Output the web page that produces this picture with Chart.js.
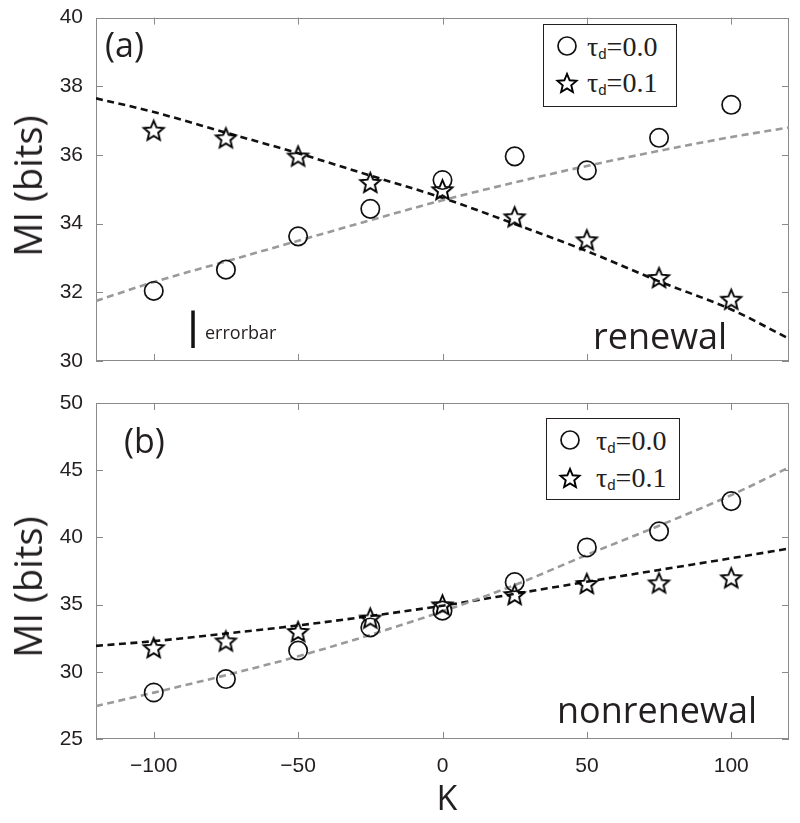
<!DOCTYPE html>
<html>
<head>
<meta charset="utf-8">
<script src="https://cdn.jsdelivr.net/npm/chart.js@4.4.1/dist/chart.umd.min.js"></script>
<style>
  html, body { margin: 0; padding: 0; background: #fff; }
  body { position: relative; width: 800px; height: 823px; overflow: hidden; font-family: 'Open Sans', sans-serif; color: #231f20; }
  #w1 { position: absolute; left: 0; top: 0; width: 800px; height: 380px; }
  #w2 { position: absolute; left: 0; top: 380px; width: 800px; height: 443px; }
  .t { position: absolute; white-space: nowrap; line-height: 1; }
  .c { transform: translate(-50%, -50%); }
  .ylab { transform: translate(-50%, -50%) rotate(-90deg); font-size: 38px; }
  .panel { font-size: 34px; transform: translateY(-50%); }
  .big { font-size: 36px; transform: translateY(-50%); }
  .legend { position: absolute; border: 1px solid #231f20; background: #fff; box-sizing: border-box; }
  .lt { position: absolute; white-space: nowrap; line-height: 1; font-family: 'Liberation Serif', 'Times New Roman', serif; font-size: 28px; transform: translateY(-50%); }
  .lt sub { font-family: 'Liberation Sans', Arial, sans-serif; font-size: 15px; vertical-align: -3px; line-height: 0; }
  .mk { position: absolute; transform: translate(-50%, -50%); }
</style>
</head>
<body>
<div id="w1"><canvas id="c1" width="800" height="380"></canvas></div>
<div id="w2"><canvas id="c2" width="800" height="443"></canvas></div>

<div class="t ylab" style="left:27px;top:186px;">MI (bits)</div>
<div class="t ylab" style="left:27px;top:587px;">MI (bits)</div>
<div class="t c" style="left:447px;top:797px;font-size:34px;">K</div>

<div class="t panel" style="left:105px;top:44px;">(a)</div>
<div class="t panel" style="left:124px;top:440px;">(b)</div>
<div class="t big" style="left:593px;top:336px;">renewal</div>
<div class="t big" style="left:557px;top:710px;">nonrenewal</div>
<div class="t" style="left:205px;top:323px;font-size:18px;">errorbar</div>

<div class="legend" style="left:543px;top:24px;width:134px;height:83px;"></div>
<canvas class="mk" id="lc1" width="26" height="26" style="left:567px;top:46px;"></canvas>
<canvas class="mk" id="ls1" width="28" height="28" style="left:567px;top:83px;"></canvas>
<div class="lt" style="left:587px;top:47px;">&tau;<sub>d</sub>=0.0</div>
<div class="lt" style="left:587px;top:83px;">&tau;<sub>d</sub>=0.1</div>

<div class="legend" style="left:546px;top:418px;width:134px;height:82px;"></div>
<canvas class="mk" id="lc2" width="26" height="26" style="left:570px;top:440px;"></canvas>
<canvas class="mk" id="ls2" width="28" height="28" style="left:570px;top:478px;"></canvas>
<div class="lt" style="left:596px;top:441px;">&tau;<sub>d</sub>=0.0</div>
<div class="lt" style="left:596px;top:478px;">&tau;<sub>d</sub>=0.1</div>

<script>
// ---------------- data ----------------
const K = [-100, -75, -50, -25, 0, 25, 50, 75, 100];

// (a) renewal
const renewalTau00 = [32.04, 32.66, 33.63, 34.43, 35.27, 35.96, 35.55, 36.50, 37.46];
const renewalTau01 = [36.72, 36.50, 35.97, 35.20, 34.99, 34.20, 33.53, 32.43, 31.80];

// (b) nonrenewal
const nonrenewalTau00 = [28.46, 29.46, 31.58, 33.30, 34.55, 36.67, 39.25, 40.45, 42.70];
const nonrenewalTau01 = [31.80, 32.30, 33.00, 34.00, 34.98, 35.75, 36.57, 36.62, 37.00];

// fitted dashed curves, sampled at these K values
const fitK = [-120, -100, -75, -50, -25, 0, 25, 50, 75, 100, 120];
const renewalFit00 = [31.75, 32.30, 32.90, 33.50, 34.10, 34.68, 35.20, 35.68, 36.12, 36.52, 36.80];
const renewalFit01 = [37.65, 37.25, 36.65, 36.05, 35.40, 34.75, 33.99, 33.20, 32.32, 31.50, 30.65];
const nonrenewalFit00 = [27.45, 28.45, 29.75, 31.15, 32.75, 34.50, 36.45, 38.70, 40.87, 43.15, 45.20];
const nonrenewalFit01 = [31.93, 32.28, 32.85, 33.45, 34.15, 34.92, 35.80, 36.70, 37.58, 38.45, 39.17];

// error bar shown in panel (a)
const errorbarK = [-86.4, -86.4];
const errorbarMI = [30.38, 31.47];

// axes
const kRange = [-120, 120];
const kTicks = [-100, -50, 0, 50, 100];
const miRangeA = [30, 40];
const miTicksA = [30, 32, 34, 36, 38, 40];
const miRangeB = [25, 50];
const miTicksB = [25, 30, 35, 40, 45, 50];

// ---------------- helpers ----------------
const INK = '#111111';
function pts(xs, ys) { return xs.map((x, i) => ({ x: x, y: ys[i] })); }

function drawStar(g, cx, cy, R) {
  g.beginPath();
  for (let i = 0; i < 10; i++) {
    const r = (i % 2) ? R * 0.45 : R;
    const a = -Math.PI / 2 + i * Math.PI / 5;
    g.lineTo(cx + r * Math.cos(a), cy + r * Math.sin(a));
  }
  g.closePath();
  g.lineWidth = 1.9;
  g.lineJoin = 'miter';
  g.strokeStyle = '#000';
  g.stroke();
}
function makeStar(R) {
  const s = Math.ceil(R * 2 + 6);
  const c = document.createElement('canvas');
  c.width = c.height = s;
  drawStar(c.getContext('2d'), s / 2, s / 2 + R * 0.095, R);
  return c;
}
const starImg = makeStar(10.5);

// legend markers
['lc1', 'lc2'].forEach(id => {
  const g = document.getElementById(id).getContext('2d');
  g.beginPath(); g.arc(13, 13, 9, 0, Math.PI * 2); g.lineWidth = 1.7; g.strokeStyle = INK; g.stroke();
});
['ls1', 'ls2'].forEach(id => {
  const g = document.getElementById(id).getContext('2d');
  drawStar(g, 14, 14 + 10 * 0.095, 10);
});

const framePlugin = {
  id: 'frame',
  beforeDatasetsDraw(chart) {
    const { ctx, chartArea: a } = chart;
    const xs = chart.scales.x, ys = chart.scales.y;
    const L = 7;
    ctx.save();
    ctx.strokeStyle = '#8a8a8a';
    ctx.lineWidth = 1;
    ctx.strokeRect(Math.round(a.left) + 0.5, Math.round(a.top) + 0.5,
                   Math.round(a.right - a.left) - 1, Math.round(a.bottom - a.top) - 1);
    ctx.beginPath();
    xs.ticks.forEach(t => {
      const px = Math.round(xs.getPixelForValue(t.value)) + 0.5;
      ctx.moveTo(px, a.bottom); ctx.lineTo(px, a.bottom - L);
      ctx.moveTo(px, a.top); ctx.lineTo(px, a.top + L);
    });
    ys.ticks.forEach(t => {
      const py = Math.round(ys.getPixelForValue(t.value)) + 0.5;
      ctx.moveTo(a.left, py); ctx.lineTo(a.left + L, py);
      ctx.moveTo(a.right, py); ctx.lineTo(a.right - L, py);
    });
    ctx.stroke();
    ctx.restore();
  }
};

function fitSet(ys, color) {
  return {
    type: 'line', data: pts(fitK, ys), showLine: true, borderColor: color, borderWidth: 2.6,
    borderDash: [7, 4.5], pointRadius: 0, tension: 0.4, cubicInterpolationMode: 'monotone', fill: false, order: 3
  };
}
function circleSet(ys) {
  return { type: 'scatter', data: pts(K, ys), pointStyle: 'circle', pointRadius: 9.2,
           borderColor: INK, borderWidth: 1.7, backgroundColor: 'rgba(0,0,0,0)', order: 1 };
}
function starSet(ys) {
  return { type: 'scatter', data: pts(K, ys), pointStyle: starImg, pointRadius: 10,
           borderColor: INK, backgroundColor: 'rgba(0,0,0,0)', order: 1 };
}

function makeChart(id, sets, yRange, yTicks, opts) {
  return new Chart(document.getElementById(id), {
    type: 'scatter',
    data: { datasets: sets },
    options: {
      responsive: false, animation: false, devicePixelRatio: 1,
      layout: { padding: { left: 0, top: opts.top, right: 10, bottom: 0 } },
      plugins: { legend: { display: false }, tooltip: { enabled: false } },
      scales: {
        x: {
          type: 'linear', min: kRange[0], max: kRange[1],
          afterBuildTicks: s => { s.ticks = kTicks.map(v => ({ value: v })); },
          afterFit: s => { s.height = opts.xh; },
          grid: { display: false }, border: { display: false },
          ticks: { display: opts.xlabels, padding: 7, color: '#231f20',
                   font: { family: "'Liberation Sans', Arial, sans-serif", size: 21 },
                   callback: v => String(v).replace('-', '\u2212') }
        },
        y: {
          type: 'linear', min: yRange[0], max: yRange[1],
          afterBuildTicks: s => { s.ticks = yTicks.map(v => ({ value: v })); },
          afterFit: s => { s.width = 96; },
          grid: { display: false }, border: { display: false },
          ticks: { padding: 5, color: '#231f20',
                   font: { family: "'Liberation Sans', Arial, sans-serif", size: 21 } }
        }
      }
    },
    plugins: [framePlugin]
  });
}

makeChart('c1', [
  fitSet(renewalFit00, '#9a9a9a'),
  fitSet(renewalFit01, '#111111'),
  { type: 'line', data: pts(errorbarK, errorbarMI), showLine: true, borderColor: INK, borderWidth: 3.5,
    pointRadius: 0, fill: false, order: 2 },
  circleSet(renewalTau00),
  starSet(renewalTau01)
], miRangeA, miTicksA, { top: 15, xh: 19, xlabels: false });

makeChart('c2', [
  fitSet(nonrenewalFit00, '#9a9a9a'),
  fitSet(nonrenewalFit01, '#111111'),
  circleSet(nonrenewalTau00),
  starSet(nonrenewalTau01)
], miRangeB, miTicksB, { top: 23, xh: 84, xlabels: true });
</script>
</body>
</html>
